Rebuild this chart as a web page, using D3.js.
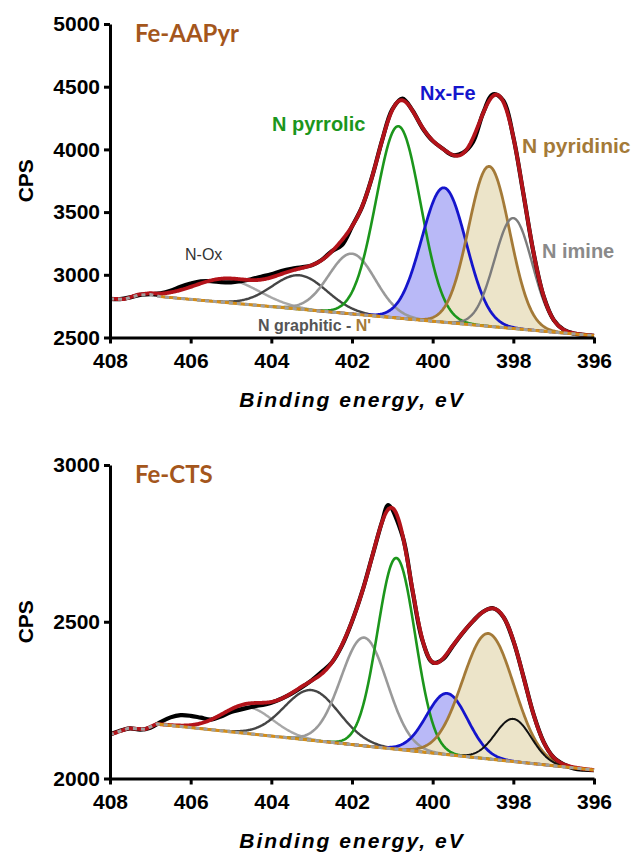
<!DOCTYPE html>
<html>
<head>
<meta charset="utf-8">
<script src="https://cdn.jsdelivr.net/npm/d3@7"></script>
<style>
  body { margin: 0; background: #fff; }
  svg { display: block; }
  text { font-family: "Liberation Sans", Arial, sans-serif; }
</style>
</head>
<body>
<svg id="chart" width="641" height="856"></svg>
<script>
// ---- N 1s binding-energy axis (eV), shared by both spectra ----
const energyTicks = [408, 406, 404, 402, 400, 398, 396];

// Fit components, in the same order for both samples
const peakNames = ["N-Ox", "N graphitic", "N'", "N pyrrolic", "Nx-Fe", "N pyridinic", "N imine"];

// ---- Fe-AAPyr ----
const aapyrCpsTicks = [2500, 3000, 3500, 4000, 4500, 5000];
// measured counts [eV, CPS]
const aapyrMeasured = [
  [408, 2808], [407.75, 2806], [407.5, 2820], [407.25, 2840], [407, 2845], [406.75, 2852],
  [406.5, 2872], [406.25, 2905], [406, 2930], [405.75, 2948], [405.5, 2950], [405.25, 2942],
  [405, 2940], [404.75, 2950], [404.5, 2965], [404.25, 2985], [404, 3005], [403.75, 3030],
  [403.5, 3048], [403.25, 3060], [403, 3075], [402.75, 3119], [402.5, 3188], [402.25, 3237],
  [402, 3385], [401.75, 3542], [401.5, 3783], [401.25, 4076], [401, 4320], [400.75, 4405],
  [400.5, 4310], [400.25, 4169], [400, 4068], [399.75, 4006], [399.5, 3954], [399.25, 3972],
  [399, 4060], [398.75, 4290], [398.5, 4440], [398.25, 4390], [398, 4098], [397.75, 3645],
  [397.5, 3178], [397.25, 2830], [397, 2641], [396.75, 2561], [396.5, 2531], [396.25, 2521],
  [396, 2514]
];
// background under the fit [eV, CPS]
const aapyrBackground = [[408, 2808], [407.65, 2805], [407.3, 2838], [407.0, 2843], [406.75, 2826], [396.0, 2514]];
const aapyrCenters = [405.1, 403.3, 402.0, 400.85, 399.72, 398.6, 398.0];
const aapyrHeights = [185, 270, 480, 1530, 1072, 1275, 880];
const aapyrFwhm    = [1.9, 1.6, 1.36, 1.3, 1.3, 1.2, 1.1];

// ---- Fe-CTS ----
const ctsCpsTicks = [2000, 2500, 3000];
const ctsMeasured = [
  [408, 2140], [407.75, 2152], [407.5, 2160], [407.25, 2156], [407, 2162], [406.75, 2180],
  [406.5, 2195], [406.25, 2202], [406, 2200], [405.75, 2194], [405.5, 2188], [405.25, 2198],
  [405, 2212], [404.5, 2228], [404, 2242], [403.5, 2271], [403, 2313], [402.75, 2340],
  [402.5, 2370], [402.25, 2424], [402, 2501], [401.75, 2595], [401.5, 2708], [401.25, 2821],
  [401.1, 2872], [400.75, 2775], [400.5, 2599], [400.25, 2439], [400, 2370], [399.75, 2380],
  [399.5, 2423], [399.25, 2465], [399, 2502], [398.75, 2532], [398.5, 2543], [398.25, 2516],
  [398, 2439], [397.75, 2325], [397.5, 2205], [397.25, 2117], [397, 2067], [396.75, 2045],
  [396.5, 2032], [396.25, 2028], [396, 2027]
];
const ctsBackground = [[408, 2140], [407.55, 2160], [407.13, 2157], [406.84, 2174], [396.0, 2027]];
const ctsCenters = [404.6, 403.0, 401.7, 400.9, 399.64, 398.62, 398.0];
const ctsHeights = [85, 160, 345, 610, 195, 400, 136];
const ctsFwhm    = [1.5, 1.6, 1.35, 1.1, 1.2, 1.5, 1.05];

// ---- drawing ----
const svg = d3.select("#chart");
const x = d3.scaleLinear().domain([408, 396]).range([110, 594]);

const samples = d3.range(408, 395.999, -0.02);

function bgAt(pts, e) {
  // background is stored from high to low energy
  for (let i = 0; i < pts.length - 1; i++) {
    const [e0, c0] = pts[i], [e1, c1] = pts[i + 1];
    if (e <= e0 && e >= e1) return c0 + (c1 - c0) * (e - e0) / (e1 - e0);
  }
  return e > pts[0][0] ? pts[0][1] : pts[pts.length - 1][1];
}
function gauss(e, c, h, w) {
  return h * Math.exp(-4 * Math.LN2 * (e - c) * (e - c) / (w * w));
}

const styles = {
  "N-Ox":        { stroke: "#a8a8a8", width: 2.4 },
  "N graphitic": { stroke: "#454545", width: 2.4 },
  "N'":          { stroke: "#9a9a9a", width: 2.6 },
  "N pyrrolic":  { stroke: "#1c961c", width: 2.6 },
  "Nx-Fe":       { stroke: "#1515cc", width: 2.8, fill: "#b9b9f7" },
  "N pyridinic": { stroke: "#a47a38", width: 2.8, fill: "#ece4c9" }
};

function drawPanel(cfg) {
  const y = d3.scaleLinear().domain(cfg.domain).range([cfg.bottom, cfg.top]);
  const g = svg.append("g");
  const line = d3.line().x(d => x(d[0])).y(d => y(d[1]));
  const bg = e => bgAt(cfg.background, e);

  // component curves, each riding on the background
  const comps = peakNames.map((name, i) => {
    const c = cfg.centers[i], h = cfg.heights[i], w = cfg.fwhm[i];
    const span = w * 2.5;
    const pts = samples.filter(e => e <= c + span && e >= c - span)
      .map(e => [e, bg(e) + gauss(e, c, h, w)]);
    return { name, pts };
  });

  // filled components
  comps.forEach(cp => {
    const st = cp.name === "N imine" ? cfg.imineStyle : styles[cp.name];
    if (st.fill) {
      const area = d3.area().x(d => x(d[0])).y0(d => y(bg(d[0]))).y1(d => y(d[1]));
      g.append("path").attr("d", area(cp.pts)).attr("fill", st.fill).attr("stroke", "none");
    }
  });
  // component outlines
  comps.forEach(cp => {
    const st = cp.name === "N imine" ? cfg.imineStyle : styles[cp.name];
    g.append("path").attr("d", line(cp.pts)).attr("fill", "none")
      .attr("stroke", st.stroke).attr("stroke-width", st.width).attr("stroke-linejoin", "round");
  });

  // measured spectrum
  g.append("path")
    .attr("d", d3.line().x(d => x(d[0])).y(d => y(d[1])).curve(d3.curveCatmullRom.alpha(0.5))(cfg.measured))
    .attr("fill", "none").attr("stroke", "#000").attr("stroke-width", 4.2);

  // envelope of the fit
  const envelope = samples.map(e => [e, bg(e) + peakNames.reduce((s, n, i) =>
    s + gauss(e, cfg.centers[i], cfg.heights[i], cfg.fwhm[i]), 0)]);
  g.append("path").attr("d", line(envelope)).attr("fill", "none")
    .attr("stroke", "#b3131a").attr("stroke-width", 3.8).attr("stroke-linejoin", "round");

  // background: orange straight section plus grey dashes along the whole background
  const straight = cfg.background.slice(-2);
  g.append("path").attr("d", line(straight)).attr("fill", "none")
    .attr("stroke", "#d58d16").attr("stroke-width", 3);
  g.append("path").attr("d", line(cfg.background)).attr("fill", "none")
    .attr("stroke", "#a0a0a0").attr("stroke-width", 3).attr("stroke-dasharray", "4,4");

  // axes
  const yAxis = g.append("g").attr("transform", "translate(110,0)")
    .call(d3.axisLeft(y).tickValues(cfg.ticks).tickSize(6).tickSizeOuter(0).tickPadding(4).tickFormat(d3.format("d")));
  const xAxis = g.append("g").attr("transform", `translate(0,${cfg.bottom})`)
    .call(d3.axisBottom(x).tickValues(energyTicks).tickSize(6).tickSizeOuter(0).tickPadding(10).tickFormat(d3.format("d")));
  [yAxis, xAxis].forEach(a => {
    a.select(".domain").attr("stroke", "#000").attr("stroke-width", 3);
    a.selectAll(".tick line").attr("stroke", "#000").attr("stroke-width", 3);
    a.selectAll(".tick text").attr("fill", "#000")
      .style("font-family", '"Liberation Sans", Arial, sans-serif')
      .style("font-size", "21px").style("font-weight", "bold");
  });

  // axis titles
  g.append("text").attr("x", 352).attr("y", cfg.bottom + 69).attr("text-anchor", "middle")
    .style("font-size", "21px").style("font-weight", "bold").style("font-style", "italic")
    .style("letter-spacing", "2px").text("Binding energy, eV");
  g.append("text").attr("transform", `translate(33,${(cfg.top + cfg.bottom) / 2}) rotate(-90)`)
    .attr("text-anchor", "middle").style("font-size", "21px").style("font-weight", "bold").text("CPS");

  // sample name
  g.append("text").attr("x", 135).attr("y", cfg.top + 18)
    .style("font-family", "Lato, sans-serif").style("font-size", "24px").style("font-weight", "bold")
    .attr("fill", "#a4561c").text(cfg.title);
  return g;
}

const p1 = drawPanel({
  title: "Fe-AAPyr", domain: [2500, 5000], top: 24, bottom: 337.5, ticks: aapyrCpsTicks,
  measured: aapyrMeasured, background: aapyrBackground,
  centers: aapyrCenters, heights: aapyrHeights, fwhm: aapyrFwhm,
  imineStyle: { stroke: "#7c7c7c", width: 2.4 }
});
drawPanel({
  title: "Fe-CTS", domain: [2000, 3000], top: 465, bottom: 778.5, ticks: ctsCpsTicks,
  measured: ctsMeasured, background: ctsBackground,
  centers: ctsCenters, heights: ctsHeights, fwhm: ctsFwhm,
  imineStyle: { stroke: "#111", width: 2 }
});

// component labels for Fe-AAPyr
const lbl = (t, xx, yy, color, size, weight) => p1.append("text").attr("x", xx).attr("y", yy)
  .attr("fill", color).style("font-size", size + "px").style("font-weight", weight).text(t);
lbl("N pyrrolic", 272, 131, "#1c961c", 20, "bold");
lbl("Nx-Fe", 420, 100, "#1515cc", 20, "bold");
lbl("N pyridinic", 522, 153, "#a47a38", 21, "bold");
lbl("N imine", 542, 258, "#8a8a8a", 20, "bold");
lbl("N-Ox", 185, 260, "#333", 16, "normal");
const gr = lbl("N graphitic - ", 258, 331, "#555", 16, "bold");
gr.append("tspan").attr("fill", "#a47a38").text("N'");
</script>
</body>
</html>
